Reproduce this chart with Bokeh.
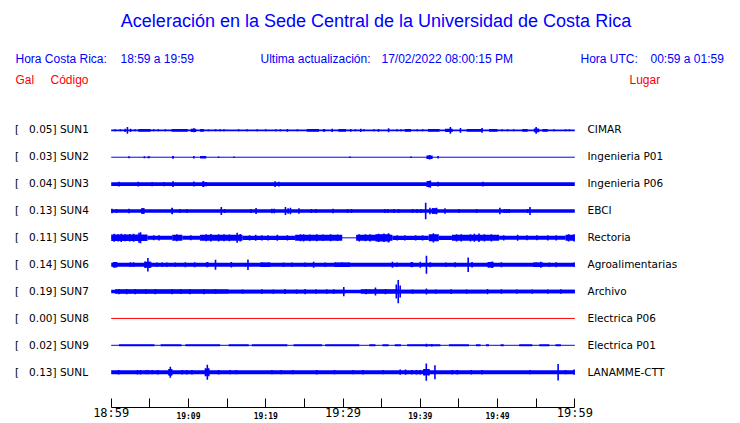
from bokeh.plotting import figure
from bokeh.models import Range1d, FixedTicker, LinearAxis, Label, ColumnDataSource
from bokeh.embed import file_html
from bokeh.resources import INLINE

# ---------------- data ----------------
codes = ["SUN1", "SUN2", "SUN3", "SUN4", "SUN5", "SUN6", "SUN7", "SUN8", "SUN9", "SUNL"]
gal = [0.05, 0.03, 0.04, 0.13, 0.11, 0.14, 0.19, 0.00, 0.02, 0.13]
places = ["CIMAR", "Ingenieria P01", "Ingenieria P06", "EBCI", "Rectoria",
          "Agroalimentarias", "Archivo", "Electrica P06", "Electrica P01", "LANAMME-CTT"]
trace_colors = ["blue"] * 7 + ["red"] + ["blue"] * 2

# minutes after 18:59
tick_minutes = [0, 5, 10, 15, 20, 25, 30, 35, 40, 45, 50, 55, 60]
big_tick_min = [0, 30, 60]
big_tick_lbl = ["18:59", "19:29", "19:59"]
small_tick_min = [10, 20, 40, 50]
small_tick_lbl = ["19:09", "19:19", "19:39", "19:49"]

# background amplitude of each trace (counts)
base_amp = [0.8, 0.5, 1.8, 1.8, 0.5, 2.0, 1.7, 0.5, 0.5, 2.0]

# windows of sustained shaking: (start min, end min, amplitude)
sun1_win = [(3.5, 5.1, 1.3), (7.8, 9.9, 1.4), (10.3, 11.0, 1.6), (11.5, 12.0, 1.3), (25.3, 26.9, 1.3),
            (27.4, 27.7, 1.3), (29.4, 30.4, 1.3), (38.0, 38.8, 1.3), (41.0, 42.5, 1.3), (43.2, 44.2, 1.6),
            (46.0, 48.0, 1.3), (48.9, 50.0, 1.3), (53.2, 53.9, 1.3), (54.7, 55.4, 1.8), (55.8, 56.5, 1.3)]
sun2_win = [(4.7, 5.0, 1.0), (7.9, 8.1, 1.3), (11.5, 12.3, 1.2), (40.8, 41.6, 1.7)]
sun3_win = [(7.9, 8.1, 2.7), (11.8, 12.1, 2.7), (40.9, 41.4, 3.0)]
sun4_win = [(3.9, 4.3, 2.7), (7.8, 8.0, 3.0), (41.5, 42.2, 2.7)]
sun5_win = [(0.0, 4.7, 3.3), (4.7, 7.9, 2.0), (7.9, 9.2, 3.0), (9.2, 11.5, 2.0), (11.5, 17.0, 3.0),
            (17.0, 23.8, 2.2), (23.8, 29.9, 3.0), (31.7, 36.4, 3.0), (34.2, 36.1, 3.7), (36.4, 41.1, 2.2),
            (41.1, 42.4, 3.5), (42.4, 44.1, 2.2), (44.1, 50.2, 3.0), (50.2, 58.8, 2.0), (58.8, 60.0, 3.0)]
sun6_win = [(0.2, 0.8, 2.7), (4.3, 5.2, 3.0), (12.3, 12.6, 2.4), (19.3, 20.6, 2.2), (28.9, 30.8, 2.3),
            (38.7, 39.1, 2.4), (48.7, 49.5, 2.7), (54.6, 55.9, 2.3)]
sun7_win = [(0.5, 15.2, 2.3), (15.2, 30.3, 1.9), (32.3, 37.2, 2.3), (37.2, 48.5, 1.9), (48.5, 60.0, 1.8)]
sun8_win = []
sun9_win = [(1.0, 5.6, 1.0), (6.4, 9.1, 1.0), (9.6, 14.1, 1.0), (15.2, 17.8, 1.0), (18.2, 22.8, 1.0),
            (23.6, 27.3, 1.0), (27.7, 32.1, 1.0), (33.4, 34.2, 1.0), (35.1, 35.9, 1.0), (36.7, 37.5, 1.0),
            (38.3, 42.6, 1.0), (43.7, 46.3, 1.0), (47.2, 47.8, 1.0), (48.5, 48.9, 1.0), (50.4, 50.8, 1.0),
            (52.8, 54.5, 1.0), (55.4, 56.7, 1.0), (57.5, 58.2, 1.0)]
sunl_win = [(7.4, 7.9, 3.0), (12.2, 12.7, 3.5), (40.4, 41.2, 3.2)]

# individual peaks: (minute, amplitude)
sun1_pk = [(0.5, 1.0), (1.2, 1.0), (1.8, 1.7), (2.1, 3.3), (2.5, 1.7), (3.1, 1.0), (5.5, 1.0), (6.1, 1.0),
           (7.0, 1.0), (10.7, 2.0), (12.6, 0.9), (13.5, 1.0), (14.1, 1.0), (14.6, 1.0), (16.5, 1.0),
           (17.6, 1.0), (18.9, 1.0), (20.0, 1.0), (21.3, 1.0), (21.9, 1.0), (22.8, 1.3), (24.1, 1.0),
           (28.6, 1.7), (31.0, 1.3), (31.6, 1.0), (32.3, 1.7), (32.7, 1.0), (34.0, 1.0), (34.6, 1.3),
           (35.9, 2.0), (37.0, 1.0), (37.5, 1.0), (39.6, 1.0), (40.3, 1.0), (43.9, 3.3), (45.2, 2.3),
           (48.0, 2.3), (50.6, 1.0), (51.3, 1.0), (52.1, 1.0), (55.0, 3.3), (57.3, 1.0), (58.8, 1.0),
           (59.3, 1.0)]
sun2_pk = [(2.3, 1.0), (4.3, 1.0), (8.0, 1.3), (10.7, 1.3), (13.9, 0.8), (15.9, 0.8), (30.9, 0.8),
           (38.8, 0.8), (41.2, 2.3), (42.3, 1.3)]
sun3_pk = [(1.0, 2.3), (3.5, 2.4), (5.3, 2.2), (6.8, 2.2), (8.0, 2.7), (10.7, 2.5), (11.9, 2.8),
           (12.3, 2.2), (21.2, 2.8), (21.7, 2.3), (40.9, 2.8), (41.1, 3.2), (41.3, 3.7), (42.3, 2.3),
           (48.1, 2.3)]
sun4_pk = [(0.1, 2.3), (0.7, 2.0), (2.3, 2.3), (4.0, 2.7), (4.2, 2.7), (7.9, 3.3), (8.9, 2.0), (9.8, 2.0),
           (14.25, 4.0), (14.7, 2.0), (18.1, 2.0), (18.75, 3.0), (20.8, 2.3), (21.1, 2.3), (22.55, 4.0),
           (22.9, 2.7), (23.2, 3.3), (24.3, 2.7), (25.9, 2.0), (26.5, 2.0), (28.7, 2.3), (30.6, 2.0),
           (31.1, 2.0), (35.4, 2.0), (35.8, 2.0), (36.6, 2.0), (37.2, 2.0), (39.0, 2.0), (39.6, 2.0),
           (40.1, 2.0), (40.7, 8.3), (41.25, 3.3), (41.6, 2.7), (41.8, 2.7), (42.1, 3.3), (43.2, 2.7),
           (45.0, 2.0), (47.3, 2.0), (50.3, 3.3), (50.9, 2.0), (51.2, 2.0), (51.5, 2.0), (53.9, 2.0),
           (54.2, 4.0)]
sun5_pk = [(0.4, 4.0), (0.9, 3.7), (1.3, 4.2), (1.8, 3.5), (2.4, 3.8), (2.9, 4.0), (3.6, 5.0), (3.8, 5.5),
           (5.5, 2.5), (6.2, 2.6), (8.5, 3.5), (10.3, 2.5), (12.3, 3.5), (12.9, 3.8), (13.9, 3.7),
           (14.6, 3.5), (15.3, 3.4), (16.3, 5.0), (16.7, 3.8), (17.9, 2.7), (18.7, 3.0), (19.5, 2.6),
           (20.3, 2.7), (21.5, 3.0), (22.8, 2.7), (24.5, 3.5), (24.9, 3.6), (25.7, 3.4), (26.6, 3.5),
           (27.4, 3.3), (28.4, 3.5), (29.3, 3.3), (32.1, 3.6), (32.9, 3.5), (33.5, 3.6), (34.6, 4.2),
           (35.3, 4.3), (35.9, 4.7), (37.0, 2.7), (38.0, 2.6), (39.4, 2.7), (40.3, 2.6), (41.7, 4.7),
           (44.7, 3.7), (45.3, 3.6), (46.5, 3.7), (47.0, 4.0), (47.6, 4.3), (48.3, 3.7), (49.2, 3.6),
           (50.8, 2.6), (52.6, 3.0), (53.8, 2.5), (55.1, 2.5), (56.5, 2.7), (57.6, 2.6), (59.2, 3.6),
           (59.9, 3.7)]
sun6_pk = [(0.4, 2.7), (2.5, 2.4), (2.9, 2.4), (4.4, 3.3), (4.75, 6.8), (5.0, 3.0), (5.9, 2.2), (6.6, 2.2),
           (7.2, 2.2), (8.3, 2.2), (9.6, 2.5), (10.8, 2.5), (12.4, 2.5), (13.5, 5.0), (15.55, 2.7),
           (17.7, 5.3), (19.5, 2.2), (20.4, 2.2), (22.3, 2.2), (23.4, 2.2), (25.1, 2.2), (26.2, 3.0),
           (27.7, 2.2), (29.0, 2.2), (29.9, 2.2), (30.8, 2.2), (36.4, 3.0), (37.0, 2.2), (38.9, 2.5),
           (40.0, 3.0), (40.8, 9.0), (41.3, 2.5), (43.3, 2.2), (44.5, 2.5), (46.2, 7.3), (46.7, 2.7),
           (48.9, 2.7), (49.3, 3.3), (50.5, 2.5), (55.0, 2.2), (55.6, 3.0), (56.7, 2.2), (57.6, 2.5),
           (59.9, 2.2)]
sun7_pk = [(1.0, 2.6), (2.0, 2.7), (3.1, 2.7), (4.5, 2.5), (5.7, 2.6), (7.9, 2.7), (9.0, 2.5), (10.2, 2.7),
           (12.0, 2.6), (13.5, 2.5), (17.0, 2.2), (19.5, 2.3), (21.0, 2.2), (22.5, 2.5), (24.0, 2.2),
           (25.1, 2.7), (26.5, 2.3), (27.9, 2.3), (28.8, 2.3), (30.1, 4.7), (33.0, 2.6), (34.2, 4.0),
           (35.5, 2.6), (36.9, 7.0), (37.15, 11.7), (37.4, 6.0), (39.0, 2.2), (40.8, 3.0), (42.0, 2.2),
           (44.0, 2.4), (46.0, 2.2), (48.7, 2.7), (50.5, 2.3), (52.5, 2.2), (54.5, 2.2), (56.5, 2.2),
           (58.2, 2.3)]
sun8_pk = []
sun9_pk = [(40.8, 1.5), (41.5, 1.3)]
sunl_pk = [(0.95, 2.3), (3.4, 2.3), (3.8, 2.3), (4.5, 2.2), (4.8, 2.2), (5.3, 2.2), (6.05, 2.3), (7.5, 3.3),
           (7.65, 5.5), (7.8, 3.3), (9.2, 2.3), (9.8, 2.3), (10.45, 2.3), (12.2, 4.0), (12.44, 7.5),
           (12.6, 4.0), (13.9, 2.3), (15.4, 2.2), (16.2, 2.2), (20.8, 2.2), (22.0, 2.2), (23.5, 2.2),
           (26.6, 2.3), (28.9, 2.2), (31.3, 2.2), (32.6, 2.3), (35.2, 2.2), (37.4, 2.7), (38.1, 2.7),
           (38.9, 2.3), (39.5, 2.3), (40.0, 2.3), (40.5, 3.3), (40.78, 8.7), (41.1, 3.3), (41.9, 7.0),
           (44.15, 2.3), (44.8, 2.3), (46.6, 2.3), (48.0, 2.3), (54.2, 2.2), (57.84, 8.3), (58.8, 2.2),
           (59.9, 2.7)]

windows = [sun1_win, sun2_win, sun3_win, sun4_win, sun5_win, sun6_win, sun7_win, sun8_win, sun9_win, sunl_win]
peaks = [sun1_pk, sun2_pk, sun3_pk, sun4_pk, sun5_pk, sun6_pk, sun7_pk, sun8_pk, sun9_pk, sunl_pk]

# ---------------- layout ----------------
W, H = 740, 423
BB = 14                       # space below the frame for the time labels
FRAME_B = H - BB              # frame bottom (page px)
X0_PX, X60_PX = 110.7, 574.3  # where 18:59 and 19:59 sit
ROW0_PX, ROW_PX = 130.5, 27.0
GAIN = 1.0 / ROW_PX           # counts -> row units
T_END = 60.0

k = (X60_PX - X0_PX) / T_END
x_range = Range1d(-X0_PX / k, (W - X0_PX) / k)
y_range = Range1d((FRAME_B - ROW0_PX) / ROW_PX, -ROW0_PX / ROW_PX)   # flipped: row 0 on top

p = figure(width=W, height=H, x_range=x_range, y_range=y_range,
           output_backend="svg", toolbar_location=None,
           x_axis_location=None, y_axis_location=None,
           min_border_left=0, min_border_right=0, min_border_top=0, min_border_bottom=BB)
p.outline_line_color = None
p.background_fill_color = "white"
p.border_fill_color = "white"
p.xgrid.visible = False
p.ygrid.visible = False

# traces
ln = dict(x0=[], x1=[], y=[], w=[], color=[])
q = dict(left=[], right=[], bottom=[], top=[], color=[])
s = dict(x0=[], y0=[], x1=[], y1=[], color=[])
for i in range(len(codes)):
    c = trace_colors[i]
    ln["x0"].append(0); ln["x1"].append(T_END); ln["y"].append(i)
    ln["w"].append(2 * base_amp[i]); ln["color"].append(c)
    for (t0, t1, a) in windows[i]:
        q["left"].append(t0); q["right"].append(t1)
        q["bottom"].append(i - a * GAIN); q["top"].append(i + a * GAIN); q["color"].append(c)
    for (t, a) in peaks[i]:
        s["x0"].append(t); s["x1"].append(t)
        s["y0"].append(i - a * GAIN); s["y1"].append(i + a * GAIN); s["color"].append(c)

p.segment(x0="x0", y0="y", x1="x1", y1="y", line_width="w", line_color="color",
          line_cap="butt", source=ColumnDataSource(ln))
p.quad(left="left", right="right", bottom="bottom", top="top", color="color",
       line_color=None, source=ColumnDataSource(q))
p.segment(x0="x0", y0="y0", x1="x1", y1="y1", line_color="color", line_width=1.6,
          source=ColumnDataSource(s))

# time axis: line, ticks and the small labels
small_over = {m: "" for m in tick_minutes}
small_over.update({m: t for m, t in zip(small_tick_min, small_tick_lbl)})
xa = LinearAxis(ticker=FixedTicker(ticks=tick_minutes), bounds=(0, T_END),
                major_tick_in=9, major_tick_out=0, minor_tick_line_color=None,
                axis_line_color="black", major_tick_line_color="black",
                major_label_overrides=small_over, major_label_standoff=4,
                major_label_text_font="DejaVu Sans Mono", major_label_text_font_size="8px",
                major_label_text_font_style="bold", major_label_text_color="black")
p.add_layout(xa, "below")
# second axis row carrying the large labels, pulled up onto the same line
big_over = {m: t for m, t in zip(big_tick_min, big_tick_lbl)}
xb = LinearAxis(ticker=FixedTicker(ticks=big_tick_min), bounds=(0, T_END),
                major_tick_in=0, major_tick_out=0, minor_tick_line_color=None,
                axis_line_color=None, major_tick_line_color=None,
                major_label_overrides=big_over, major_label_standoff=-18,
                major_label_text_font="DejaVu Sans Mono", major_label_text_font_size="12px",
                major_label_text_color="black")
p.add_layout(xb, "below")

# texts placed inside the frame (screen px measured from frame bottom-left)
def txt(t, px, py, size, color, align="left", font="Liberation Sans"):
    p.add_layout(Label(x=px, y=FRAME_B - py, x_units="screen", y_units="screen", text=t,
                       text_align=align, text_baseline="middle", text_font=font,
                       text_font_size=size, text_color=color))

for i in range(len(codes)):
    yy = ROW0_PX + i * ROW_PX
    txt("[\u00a0\u00a0\u00a0%.2f] %s" % (gal[i], codes[i]), 14.5, yy, "10.5px", "black", font="DejaVu Sans")
    txt(places[i], 587, yy, "10.5px", "black", font="DejaVu Sans")

txt("Aceleración en la Sede Central de la Universidad de Costa Rica", 375.5, 22, "18px", "#0000ff", "center")
txt("Hora Costa Rica:", 15, 60, "12px", "#0000ff")
txt("18:59 a 19:59", 120, 60, "12px", "#0000ff")
txt("Ultima actualización:", 260, 60, "12px", "#0000ff")
txt("17/02/2022 08:00:15 PM", 381, 60, "12px", "#0000ff")
txt("Hora UTC:", 580, 60, "12px", "#0000ff")
txt("00:59 a 01:59", 650, 60, "12px", "#0000ff")
txt("Gal", 15, 81, "12px", "#ff0000")
txt("Código", 50, 81, "12px", "#ff0000")
txt("Lugar", 629, 81, "12px", "#ff0000")

open("out.html", "w").write(file_html(p, INLINE))
